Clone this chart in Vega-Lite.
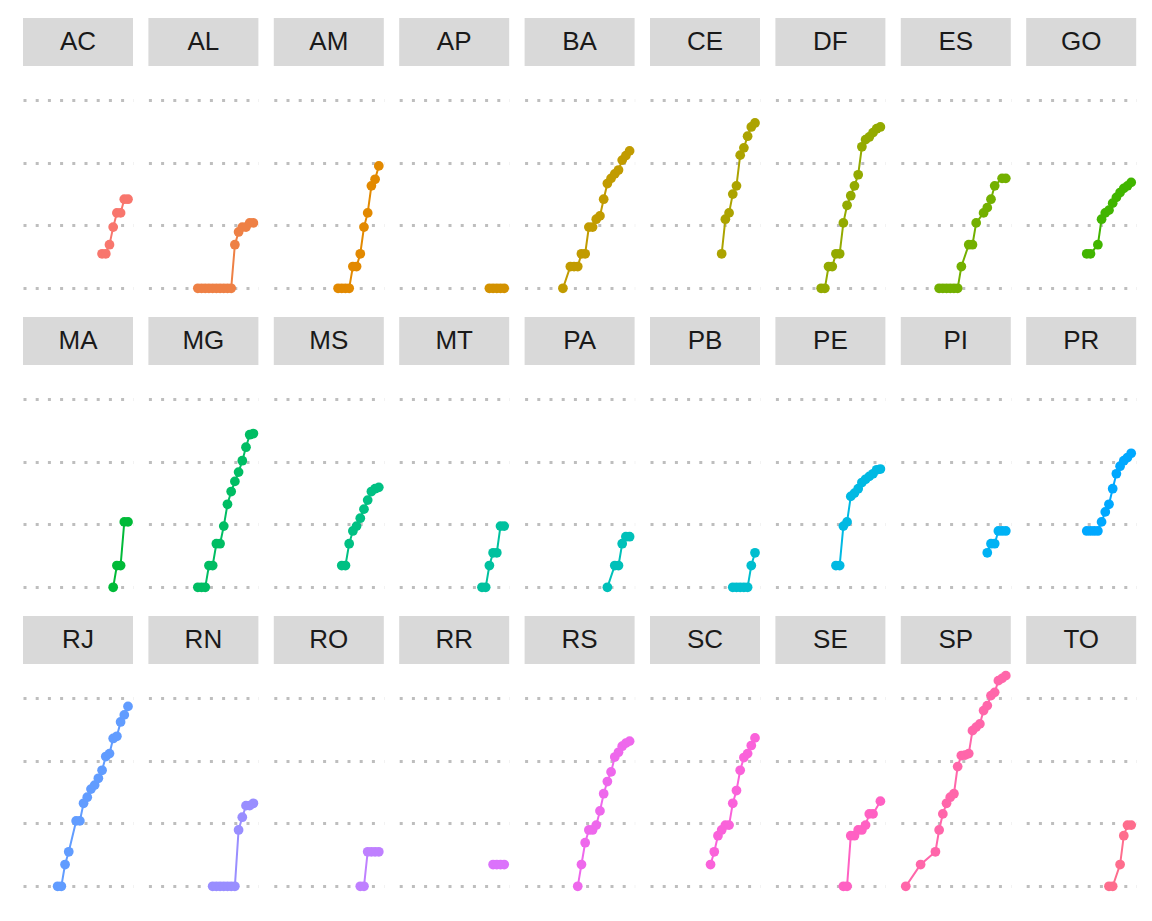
{
  "$schema": "https://vega.github.io/schema/vega-lite/v6.json",
  "background": "white",
  "padding": {"left": 23, "top": 18, "right": 0, "bottom": 0},
  "data": {"values": [
    {"state":"AC","date":"2020-03-17","cases":3},{"state":"AC","date":"2020-03-18","cases":3},{"state":"AC","date":"2020-03-19","cases":4},{"state":"AC","date":"2020-03-20","cases":7},{"state":"AC","date":"2020-03-21","cases":11},{"state":"AC","date":"2020-03-22","cases":11},{"state":"AC","date":"2020-03-23","cases":17},{"state":"AC","date":"2020-03-24","cases":17},
    {"state":"AL","date":"2020-03-09","cases":1},{"state":"AL","date":"2020-03-10","cases":1},{"state":"AL","date":"2020-03-11","cases":1},{"state":"AL","date":"2020-03-12","cases":1},{"state":"AL","date":"2020-03-13","cases":1},{"state":"AL","date":"2020-03-14","cases":1},{"state":"AL","date":"2020-03-15","cases":1},{"state":"AL","date":"2020-03-16","cases":1},{"state":"AL","date":"2020-03-17","cases":1},{"state":"AL","date":"2020-03-18","cases":1},{"state":"AL","date":"2020-03-19","cases":4},{"state":"AL","date":"2020-03-20","cases":6},{"state":"AL","date":"2020-03-21","cases":7},{"state":"AL","date":"2020-03-22","cases":7},{"state":"AL","date":"2020-03-23","cases":8},{"state":"AL","date":"2020-03-24","cases":8},
    {"state":"AM","date":"2020-03-13","cases":1},{"state":"AM","date":"2020-03-14","cases":1},{"state":"AM","date":"2020-03-15","cases":1},{"state":"AM","date":"2020-03-16","cases":1},{"state":"AM","date":"2020-03-17","cases":2},{"state":"AM","date":"2020-03-18","cases":2},{"state":"AM","date":"2020-03-19","cases":3},{"state":"AM","date":"2020-03-20","cases":7},{"state":"AM","date":"2020-03-21","cases":11},{"state":"AM","date":"2020-03-22","cases":26},{"state":"AM","date":"2020-03-23","cases":32},{"state":"AM","date":"2020-03-24","cases":49},
    {"state":"AP","date":"2020-03-20","cases":1},{"state":"AP","date":"2020-03-21","cases":1},{"state":"AP","date":"2020-03-22","cases":1},{"state":"AP","date":"2020-03-23","cases":1},{"state":"AP","date":"2020-03-24","cases":1},
    {"state":"BA","date":"2020-03-06","cases":1},{"state":"BA","date":"2020-03-08","cases":2},{"state":"BA","date":"2020-03-09","cases":2},{"state":"BA","date":"2020-03-10","cases":2},{"state":"BA","date":"2020-03-11","cases":3},{"state":"BA","date":"2020-03-12","cases":3},{"state":"BA","date":"2020-03-13","cases":7},{"state":"BA","date":"2020-03-14","cases":7},{"state":"BA","date":"2020-03-15","cases":9},{"state":"BA","date":"2020-03-16","cases":10},{"state":"BA","date":"2020-03-17","cases":17},{"state":"BA","date":"2020-03-18","cases":28},{"state":"BA","date":"2020-03-19","cases":33},{"state":"BA","date":"2020-03-20","cases":38},{"state":"BA","date":"2020-03-21","cases":43},{"state":"BA","date":"2020-03-22","cases":59},{"state":"BA","date":"2020-03-23","cases":68},{"state":"BA","date":"2020-03-24","cases":79},
    {"state":"CE","date":"2020-03-15","cases":3},{"state":"CE","date":"2020-03-16","cases":9},{"state":"CE","date":"2020-03-17","cases":11},{"state":"CE","date":"2020-03-18","cases":20},{"state":"CE","date":"2020-03-19","cases":26},{"state":"CE","date":"2020-03-20","cases":69},{"state":"CE","date":"2020-03-21","cases":87},{"state":"CE","date":"2020-03-22","cases":126},{"state":"CE","date":"2020-03-23","cases":169},{"state":"CE","date":"2020-03-24","cases":192},
    {"state":"DF","date":"2020-03-08","cases":1},{"state":"DF","date":"2020-03-09","cases":1},{"state":"DF","date":"2020-03-10","cases":2},{"state":"DF","date":"2020-03-11","cases":2},{"state":"DF","date":"2020-03-12","cases":3},{"state":"DF","date":"2020-03-13","cases":3},{"state":"DF","date":"2020-03-14","cases":8},{"state":"DF","date":"2020-03-15","cases":14},{"state":"DF","date":"2020-03-16","cases":19},{"state":"DF","date":"2020-03-17","cases":26},{"state":"DF","date":"2020-03-18","cases":37},{"state":"DF","date":"2020-03-19","cases":90},{"state":"DF","date":"2020-03-20","cases":113},{"state":"DF","date":"2020-03-21","cases":123},{"state":"DF","date":"2020-03-22","cases":141},{"state":"DF","date":"2020-03-23","cases":160},{"state":"DF","date":"2020-03-24","cases":169},
    {"state":"ES","date":"2020-03-06","cases":1},{"state":"ES","date":"2020-03-07","cases":1},{"state":"ES","date":"2020-03-08","cases":1},{"state":"ES","date":"2020-03-09","cases":1},{"state":"ES","date":"2020-03-10","cases":1},{"state":"ES","date":"2020-03-11","cases":1},{"state":"ES","date":"2020-03-12","cases":2},{"state":"ES","date":"2020-03-14","cases":4},{"state":"ES","date":"2020-03-15","cases":4},{"state":"ES","date":"2020-03-16","cases":8},{"state":"ES","date":"2020-03-18","cases":11},{"state":"ES","date":"2020-03-19","cases":13},{"state":"ES","date":"2020-03-20","cases":17},{"state":"ES","date":"2020-03-21","cases":26},{"state":"ES","date":"2020-03-23","cases":33},{"state":"ES","date":"2020-03-24","cases":33},
    {"state":"GO","date":"2020-03-12","cases":3},{"state":"GO","date":"2020-03-13","cases":3},{"state":"GO","date":"2020-03-15","cases":4},{"state":"GO","date":"2020-03-16","cases":9},{"state":"GO","date":"2020-03-17","cases":11},{"state":"GO","date":"2020-03-18","cases":12},{"state":"GO","date":"2020-03-19","cases":15},{"state":"GO","date":"2020-03-20","cases":18},{"state":"GO","date":"2020-03-21","cases":21},{"state":"GO","date":"2020-03-22","cases":24},{"state":"GO","date":"2020-03-23","cases":26},{"state":"GO","date":"2020-03-24","cases":29},
    {"state":"MA","date":"2020-03-20","cases":1},{"state":"MA","date":"2020-03-21","cases":2},{"state":"MA","date":"2020-03-22","cases":2},{"state":"MA","date":"2020-03-23","cases":8},{"state":"MA","date":"2020-03-24","cases":8},
    {"state":"MG","date":"2020-03-09","cases":1},{"state":"MG","date":"2020-03-10","cases":1},{"state":"MG","date":"2020-03-11","cases":1},{"state":"MG","date":"2020-03-12","cases":2},{"state":"MG","date":"2020-03-13","cases":2},{"state":"MG","date":"2020-03-14","cases":4},{"state":"MG","date":"2020-03-15","cases":4},{"state":"MG","date":"2020-03-16","cases":7},{"state":"MG","date":"2020-03-17","cases":14},{"state":"MG","date":"2020-03-18","cases":21},{"state":"MG","date":"2020-03-19","cases":29},{"state":"MG","date":"2020-03-20","cases":39},{"state":"MG","date":"2020-03-21","cases":56},{"state":"MG","date":"2020-03-22","cases":86},{"state":"MG","date":"2020-03-23","cases":128},{"state":"MG","date":"2020-03-24","cases":133},
    {"state":"MS","date":"2020-03-14","cases":2},{"state":"MS","date":"2020-03-15","cases":2},{"state":"MS","date":"2020-03-16","cases":4},{"state":"MS","date":"2020-03-17","cases":6},{"state":"MS","date":"2020-03-18","cases":7},{"state":"MS","date":"2020-03-19","cases":9},{"state":"MS","date":"2020-03-20","cases":12},{"state":"MS","date":"2020-03-21","cases":16},{"state":"MS","date":"2020-03-22","cases":21},{"state":"MS","date":"2020-03-23","cases":23},{"state":"MS","date":"2020-03-24","cases":24},
    {"state":"MT","date":"2020-03-18","cases":1},{"state":"MT","date":"2020-03-19","cases":1},{"state":"MT","date":"2020-03-20","cases":2},{"state":"MT","date":"2020-03-21","cases":3},{"state":"MT","date":"2020-03-22","cases":3},{"state":"MT","date":"2020-03-23","cases":7},{"state":"MT","date":"2020-03-24","cases":7},
    {"state":"PA","date":"2020-03-18","cases":1},{"state":"PA","date":"2020-03-20","cases":2},{"state":"PA","date":"2020-03-21","cases":2},{"state":"PA","date":"2020-03-22","cases":4},{"state":"PA","date":"2020-03-23","cases":5},{"state":"PA","date":"2020-03-24","cases":5},
    {"state":"PB","date":"2020-03-18","cases":1},{"state":"PB","date":"2020-03-19","cases":1},{"state":"PB","date":"2020-03-20","cases":1},{"state":"PB","date":"2020-03-21","cases":1},{"state":"PB","date":"2020-03-22","cases":1},{"state":"PB","date":"2020-03-23","cases":2},{"state":"PB","date":"2020-03-24","cases":3},
    {"state":"PE","date":"2020-03-12","cases":2},{"state":"PE","date":"2020-03-13","cases":2},{"state":"PE","date":"2020-03-14","cases":7},{"state":"PE","date":"2020-03-15","cases":8},{"state":"PE","date":"2020-03-16","cases":18},{"state":"PE","date":"2020-03-17","cases":20},{"state":"PE","date":"2020-03-18","cases":23},{"state":"PE","date":"2020-03-19","cases":28},{"state":"PE","date":"2020-03-20","cases":31},{"state":"PE","date":"2020-03-21","cases":34},{"state":"PE","date":"2020-03-22","cases":37},{"state":"PE","date":"2020-03-23","cases":42},{"state":"PE","date":"2020-03-24","cases":43},
    {"state":"PI","date":"2020-03-19","cases":3},{"state":"PI","date":"2020-03-20","cases":4},{"state":"PI","date":"2020-03-21","cases":4},{"state":"PI","date":"2020-03-22","cases":6},{"state":"PI","date":"2020-03-23","cases":6},{"state":"PI","date":"2020-03-24","cases":6},
    {"state":"PR","date":"2020-03-12","cases":6},{"state":"PR","date":"2020-03-13","cases":6},{"state":"PR","date":"2020-03-14","cases":6},{"state":"PR","date":"2020-03-15","cases":6},{"state":"PR","date":"2020-03-16","cases":8},{"state":"PR","date":"2020-03-17","cases":11},{"state":"PR","date":"2020-03-18","cases":14},{"state":"PR","date":"2020-03-19","cases":23},{"state":"PR","date":"2020-03-20","cases":37},{"state":"PR","date":"2020-03-21","cases":47},{"state":"PR","date":"2020-03-22","cases":56},{"state":"PR","date":"2020-03-23","cases":62},{"state":"PR","date":"2020-03-24","cases":71},
    {"state":"RJ","date":"2020-03-05","cases":1},{"state":"RJ","date":"2020-03-06","cases":1},{"state":"RJ","date":"2020-03-07","cases":2},{"state":"RJ","date":"2020-03-08","cases":3},{"state":"RJ","date":"2020-03-10","cases":8},{"state":"RJ","date":"2020-03-11","cases":8},{"state":"RJ","date":"2020-03-12","cases":14},{"state":"RJ","date":"2020-03-13","cases":17},{"state":"RJ","date":"2020-03-14","cases":22},{"state":"RJ","date":"2020-03-15","cases":25},{"state":"RJ","date":"2020-03-16","cases":31},{"state":"RJ","date":"2020-03-17","cases":40},{"state":"RJ","date":"2020-03-18","cases":62},{"state":"RJ","date":"2020-03-19","cases":68},{"state":"RJ","date":"2020-03-20","cases":110},{"state":"RJ","date":"2020-03-21","cases":118},{"state":"RJ","date":"2020-03-22","cases":186},{"state":"RJ","date":"2020-03-23","cases":233},{"state":"RJ","date":"2020-03-24","cases":305},
    {"state":"RN","date":"2020-03-13","cases":1},{"state":"RN","date":"2020-03-14","cases":1},{"state":"RN","date":"2020-03-15","cases":1},{"state":"RN","date":"2020-03-16","cases":1},{"state":"RN","date":"2020-03-17","cases":1},{"state":"RN","date":"2020-03-18","cases":1},{"state":"RN","date":"2020-03-19","cases":1},{"state":"RN","date":"2020-03-20","cases":6},{"state":"RN","date":"2020-03-21","cases":9},{"state":"RN","date":"2020-03-22","cases":13},{"state":"RN","date":"2020-03-23","cases":13},{"state":"RN","date":"2020-03-24","cases":14},
    {"state":"RO","date":"2020-03-19","cases":1},{"state":"RO","date":"2020-03-20","cases":1},{"state":"RO","date":"2020-03-21","cases":3},{"state":"RO","date":"2020-03-22","cases":3},{"state":"RO","date":"2020-03-23","cases":3},{"state":"RO","date":"2020-03-24","cases":3},
    {"state":"RR","date":"2020-03-21","cases":2},{"state":"RR","date":"2020-03-22","cases":2},{"state":"RR","date":"2020-03-23","cases":2},{"state":"RR","date":"2020-03-24","cases":2},
    {"state":"RS","date":"2020-03-10","cases":1},{"state":"RS","date":"2020-03-11","cases":2},{"state":"RS","date":"2020-03-12","cases":4},{"state":"RS","date":"2020-03-13","cases":6},{"state":"RS","date":"2020-03-14","cases":6},{"state":"RS","date":"2020-03-15","cases":7},{"state":"RS","date":"2020-03-16","cases":11},{"state":"RS","date":"2020-03-17","cases":19},{"state":"RS","date":"2020-03-18","cases":28},{"state":"RS","date":"2020-03-19","cases":38},{"state":"RS","date":"2020-03-20","cases":61},{"state":"RS","date":"2020-03-21","cases":71},{"state":"RS","date":"2020-03-22","cases":86},{"state":"RS","date":"2020-03-23","cases":95},{"state":"RS","date":"2020-03-24","cases":101},
    {"state":"SC","date":"2020-03-12","cases":2},{"state":"SC","date":"2020-03-13","cases":3},{"state":"SC","date":"2020-03-14","cases":5},{"state":"SC","date":"2020-03-15","cases":6},{"state":"SC","date":"2020-03-16","cases":7},{"state":"SC","date":"2020-03-17","cases":7},{"state":"SC","date":"2020-03-18","cases":14},{"state":"SC","date":"2020-03-19","cases":21},{"state":"SC","date":"2020-03-20","cases":40},{"state":"SC","date":"2020-03-21","cases":60},{"state":"SC","date":"2020-03-22","cases":68},{"state":"SC","date":"2020-03-23","cases":88},{"state":"SC","date":"2020-03-24","cases":112},
    {"state":"SE","date":"2020-03-14","cases":1},{"state":"SE","date":"2020-03-15","cases":1},{"state":"SE","date":"2020-03-16","cases":5},{"state":"SE","date":"2020-03-17","cases":5},{"state":"SE","date":"2020-03-18","cases":6},{"state":"SE","date":"2020-03-19","cases":6},{"state":"SE","date":"2020-03-20","cases":7},{"state":"SE","date":"2020-03-21","cases":10},{"state":"SE","date":"2020-03-22","cases":10},{"state":"SE","date":"2020-03-24","cases":15},
    {"state":"SP","date":"2020-02-26","cases":1},{"state":"SP","date":"2020-03-01","cases":2},{"state":"SP","date":"2020-03-05","cases":3},{"state":"SP","date":"2020-03-06","cases":6},{"state":"SP","date":"2020-03-07","cases":10},{"state":"SP","date":"2020-03-08","cases":14},{"state":"SP","date":"2020-03-09","cases":17},{"state":"SP","date":"2020-03-10","cases":19},{"state":"SP","date":"2020-03-11","cases":45},{"state":"SP","date":"2020-03-12","cases":64},{"state":"SP","date":"2020-03-13","cases":65},{"state":"SP","date":"2020-03-14","cases":68},{"state":"SP","date":"2020-03-15","cases":141},{"state":"SP","date":"2020-03-16","cases":158},{"state":"SP","date":"2020-03-17","cases":175},{"state":"SP","date":"2020-03-18","cases":267},{"state":"SP","date":"2020-03-19","cases":313},{"state":"SP","date":"2020-03-20","cases":430},{"state":"SP","date":"2020-03-21","cases":477},{"state":"SP","date":"2020-03-22","cases":692},{"state":"SP","date":"2020-03-23","cases":745},{"state":"SP","date":"2020-03-24","cases":811},
    {"state":"TO","date":"2020-03-18","cases":1},{"state":"TO","date":"2020-03-19","cases":1},{"state":"TO","date":"2020-03-21","cases":2},{"state":"TO","date":"2020-03-22","cases":5},{"state":"TO","date":"2020-03-23","cases":7},{"state":"TO","date":"2020-03-24","cases":7}
  ]},
  "facet": {"field": "state", "type": "nominal", "title": null, "header": {"labels": false, "title": null, "labelExpr": "''", "labelFontSize": 0, "labelPadding": 0}},
  "columns": 9,
  "spacing": {"row": 19, "column": 15.4},
  "spec": {
    "width": 110,
    "height": 280,
    "layer": [
      {
        "transform": [{"aggregate": [{"op": "count", "as": "n"}], "groupby": ["state"]}],
        "mark": {"type": "rect", "color": "#D9D9D9"},
        "encoding": {
          "x": {"datum": {"year": 2020, "month": 2, "date": 24, "hours": 15, "minutes": 36, "utc": true}, "type": "temporal", "axis": null,
                "scale": {"domain": [{"year": 2020, "month": 2, "date": 24, "hours": 15, "minutes": 36, "utc": true}, {"year": 2020, "month": 3, "date": 25, "hours": 8, "minutes": 24, "utc": true}], "nice": false}},
          "x2": {"datum": {"year": 2020, "month": 3, "date": 25, "hours": 8, "minutes": 24, "utc": true}},
          "y": {"datum": 1175, "type": "quantitative", "scale": {"type": "log", "domain": [0.7349, 5404.6], "nice": false, "zero": false},
                "axis": {"values": [1, 7.389056, 54.59815, 403.4288], "title": null}},
          "y2": {"datum": 5404.6}
        }
      },
      {
        "transform": [{"aggregate": [{"op": "count", "as": "n"}], "groupby": ["state"]}],
        "mark": {"type": "text", "font": "Liberation Sans", "fontSize": 26, "color": "#1A1A1A", "align": "center", "baseline": "middle"},
        "encoding": {
          "x": {"datum": {"year": 2020, "month": 3, "date": 10, "hours": 12, "utc": true}, "type": "temporal", "axis": null},
          "y": {"datum": 2520, "type": "quantitative"},
          "text": {"field": "state", "type": "nominal"}
        }
      },
      {
        "mark": {"type": "line", "strokeWidth": 2},
        "encoding": {
          "x": {"field": "date", "type": "temporal", "axis": null},
          "y": {"field": "cases", "type": "quantitative"},
          "color": {"field": "state", "type": "nominal", "legend": null,
            "scale": {"domain": ["AC","AL","AM","AP","BA","CE","DF","ES","GO","MA","MG","MS","MT","PA","PB","PE","PI","PR","RJ","RN","RO","RR","RS","SC","SE","SP","TO"],
                      "range": ["#F8766D","#EE8045","#E28900","#D39200","#C19B00","#ACA300","#93AA00","#73B000","#41B500","#00BA38","#00BD63","#00C083","#00C19F","#00C0B9","#00BECF","#00B9E3","#00B2F4","#00A8FF","#619CFF","#998EFF","#BF80FF","#DB72FB","#EE68EC","#FA62DA","#FF61C3","#FF66AA","#FE6D8D"]}}
        }
      },
      {
        "mark": {"type": "point", "filled": true, "size": 95, "opacity": 1},
        "encoding": {
          "x": {"field": "date", "type": "temporal", "axis": null},
          "y": {"field": "cases", "type": "quantitative"},
          "color": {"field": "state", "type": "nominal", "legend": null}
        }
      }
    ]
  },
  "config": {
    "view": {"stroke": null},
    "header": {"labels": false, "title": null, "labelExpr": "''", "labelFontSize": 0, "labelPadding": 0},
    "axis": {"labels": false, "ticks": false, "domain": false, "grid": true, "gridColor": "#BEBEBE", "gridWidth": 3, "gridDash": [3, 9.2], "minExtent": 0, "maxExtent": 0, "title": null}
  }
}
